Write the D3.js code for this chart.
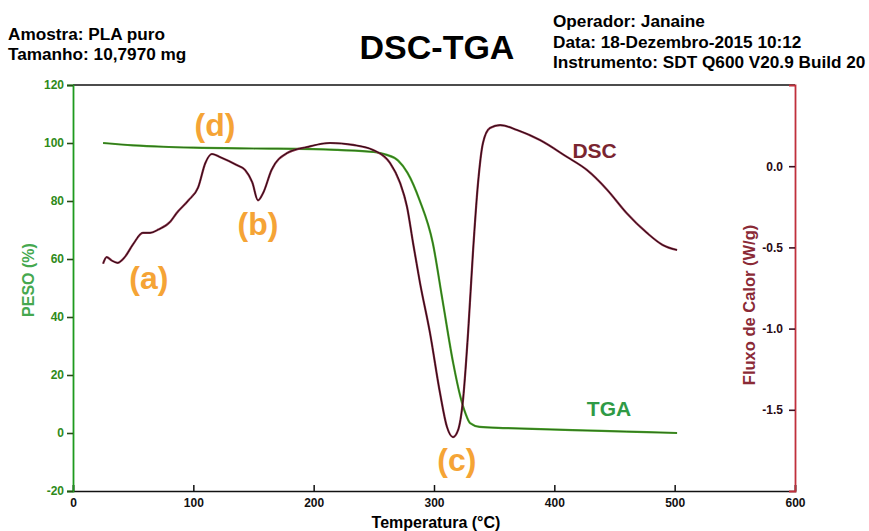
<!DOCTYPE html>
<html>
<head>
<meta charset="utf-8">
<script src="https://cdn.jsdelivr.net/npm/d3@7"></script>
<style>
  body { margin: 0; background: #fff; }
  svg { font-family: "Liberation Sans", Arial, sans-serif; }
</style>
</head>
<body>
<svg width="869" height="531"></svg>
<script>
// --- data ---
var tgaTemp = [25, 50, 75, 100, 150, 200, 220, 250, 260, 270, 278, 288, 299, 307, 316, 322, 326, 330, 338, 360, 415, 460, 502];
var tgaPeso = [100, 99.2, 98.7, 98.4, 98.1, 97.9, 97.6, 96.9, 96.0, 94.0, 89.7, 80.3, 65.5, 46.0, 24.0, 12.4, 6.9, 3.4, 2.1, 1.7, 1.0, 0.5, 0.0];

var dscTemp = [25, 28, 32, 37, 43, 50, 58, 64, 71, 81, 86, 96, 104, 110, 115.5, 122, 136, 143, 149, 153.7, 158, 165, 178, 194.5, 213.6, 232.7, 249.3, 263.4, 271.8, 277.6, 282.6, 288.4, 296.7, 305, 310.8, 315.8, 320, 324.1, 328.3, 332.5, 336.6, 340.7, 346.5, 355, 369, 388, 410.5, 427, 444, 460, 477, 490, 502];
var dscFluxo = [-0.60, -0.56, -0.58, -0.595, -0.56, -0.48, -0.41, -0.41, -0.39, -0.34, -0.29, -0.21, -0.13, 0.02, 0.075, 0.057, 0.007, -0.023, -0.10, -0.21, -0.165, -0.023, 0.081, 0.118, 0.143, 0.131, 0.100, 0.020, -0.103, -0.251, -0.473, -0.720, -1.028, -1.397, -1.606, -1.668, -1.625, -1.440, -1.028, -0.517, -0.103, 0.143, 0.235, 0.253, 0.223, 0.161, 0.057, -0.023, -0.146, -0.288, -0.411, -0.485, -0.516];

var xTicks = [0, 100, 200, 300, 400, 500, 600];
var pesoTicks = [-20, 0, 20, 40, 60, 80, 100, 120];
var fluxoTicks = [0.0, -0.5, -1.0, -1.5];

var headerLeft = ["Amostra: PLA puro", "Tamanho: 10,7970 mg"];
var headerRight = ["Operador: Janaine", "Data: 18-Dezembro-2015 10:12", "Instrumento: SDT Q600 V20.9 Build 20"];

// annotations: label, temperature, value on peso axis (baseline)
var marks = [
  {label: "(a)", t: 63, v: 49.7},
  {label: "(b)", t: 153.7, v: 68.3},
  {label: "(c)", t: 319, v: -13.1},
  {label: "(d)", t: 118, v: 102.4}
];

var svg = d3.select("svg");

var x = d3.scaleLinear().domain([0, 600]).range([73, 795]);
var yPeso = d3.scaleLinear().domain([-20, 120]).range([491, 85]);
var yFluxo = d3.scaleLinear().domain([-2.0, 0.5]).range([491, 85]);

var hyphen = function(f) { return function(d) { return f(d).replace("\u2212", "-"); }; };

// header
svg.append("g").selectAll("text")
  .data(headerLeft).enter().append("text")
  .attr("x", 8).attr("y", function(d, i) { return 40 + i * 20; })
  .style("font-size", "17.2px").style("font-weight", "bold")
  .text(function(d) { return d; });

svg.append("g").selectAll("text")
  .data(headerRight).enter().append("text")
  .attr("x", 553).attr("y", function(d, i) { return 27 + i * 20.5; })
  .style("font-size", "17.2px").style("font-weight", "bold")
  .text(function(d) { return d; });

svg.append("text")
  .attr("x", 437).attr("y", 59)
  .attr("text-anchor", "middle")
  .style("font-size", "34px").style("font-weight", "bold")
  .text("DSC-TGA");

// frame top
svg.append("line")
  .attr("x1", x(0)).attr("x2", x(600)).attr("y1", yPeso(120)).attr("y2", yPeso(120))
  .attr("stroke", "#111").attr("stroke-width", 1.5);

// bottom axis, ticks inward
var xAxis = svg.append("g").attr("transform", "translate(0," + yPeso(-20) + ")");
xAxis.call(d3.axisBottom(x).tickValues(d3.range(0, 601, 25)).tickSize(-4).tickFormat(""));
xAxis.call(d3.axisBottom(x).tickValues(xTicks).tickSize(-6).tickFormat(d3.format("d")).tickPadding(7));
xAxis.selectAll("path.domain").attr("stroke", "#111").attr("stroke-width", 1.6);
xAxis.selectAll("line").attr("stroke", "#111").attr("stroke-width", 1.5);
xAxis.selectAll("text").style("font-size", "12px").style("font-weight", "bold").attr("fill", "#111");

svg.append("text")
  .attr("x", 436).attr("y", 528)
  .attr("text-anchor", "middle")
  .style("font-size", "16px").style("font-weight", "bold")
  .text("Temperatura (\u00B0C)");

// left axis (peso)
var yAxisL = svg.append("g").attr("transform", "translate(" + x(0) + ",0)");
yAxisL.call(d3.axisLeft(yPeso).tickValues(d3.range(-20, 121, 5)).tickSize(4).tickFormat(""));
yAxisL.call(d3.axisLeft(yPeso).tickValues(pesoTicks).tickSize(6).tickFormat(hyphen(d3.format("d"))).tickPadding(3));
yAxisL.selectAll("path.domain").attr("stroke", "#1e9a1e").attr("stroke-width", 1.8);
yAxisL.selectAll("line").attr("stroke", "#2a4a18").attr("stroke-width", 1.6);
yAxisL.selectAll("text").style("font-size", "12px").style("font-weight", "bold").attr("fill", "#2f8a1a");

svg.append("text")
  .attr("transform", "translate(34,280) rotate(-90)")
  .attr("text-anchor", "middle")
  .style("font-size", "16px").style("font-weight", "bold")
  .attr("fill", "#45a84f")
  .text("PESO (%)");

// right axis (fluxo), ticks and labels inside the plot
var yAxisR = svg.append("g").attr("transform", "translate(" + x(600) + ",0)");
yAxisR.call(d3.axisLeft(yFluxo).tickValues(d3.range(-2.0, 0.51, 0.125)).tickSize(4).tickFormat(""));
yAxisR.call(d3.axisLeft(yFluxo).tickValues(fluxoTicks).tickSize(6).tickFormat(hyphen(d3.format(".1f"))).tickPadding(6));
yAxisR.selectAll("path.domain").attr("stroke", "#c0303c").attr("stroke-width", 1.8);
yAxisR.selectAll("line").attr("stroke", "#3a1020").attr("stroke-width", 1.6);
yAxisR.selectAll("text").style("font-size", "12px").style("font-weight", "bold").attr("fill", "#2a0a14");

svg.append("text")
  .attr("transform", "translate(755,305) rotate(-90)")
  .attr("text-anchor", "middle")
  .style("font-size", "16.5px").style("font-weight", "bold")
  .attr("fill", "#8a2a36")
  .text("Fluxo de Calor (W/g)");

// curves
var tga = tgaTemp.map(function(t, i) { return {t: t, v: tgaPeso[i]}; });
var dsc = dscTemp.map(function(t, i) { return {t: t, v: dscFluxo[i]}; });

var tgaLine = d3.line().curve(d3.curveMonotoneX)
  .x(function(d) { return x(d.t); }).y(function(d) { return yPeso(d.v); });
var dscLine = d3.line().curve(d3.curveMonotoneX)
  .x(function(d) { return x(d.t); }).y(function(d) { return yFluxo(d.v); });

svg.append("path").datum(tga)
  .attr("d", tgaLine).attr("fill", "none")
  .attr("stroke", "#4aa82a").attr("stroke-width", 2.2);
svg.append("path").datum(tga)
  .attr("d", tgaLine).attr("fill", "none")
  .attr("stroke", "#2a5a18").attr("stroke-width", 0.8);

svg.append("path").datum(dsc)
  .attr("d", dscLine).attr("fill", "none")
  .attr("stroke", "#8a3048").attr("stroke-width", 2.2);
svg.append("path").datum(dsc)
  .attr("d", dscLine).attr("fill", "none")
  .attr("stroke", "#2a0812").attr("stroke-width", 1);

// curve names
svg.append("text")
  .attr("x", x(415)).attr("y", yFluxo(0.05))
  .style("font-size", "21px").style("font-weight", "bold")
  .attr("fill", "#7a2530").text("DSC");
svg.append("text")
  .attr("x", x(427)).attr("y", yPeso(6))
  .style("font-size", "21px").style("font-weight", "bold")
  .attr("fill", "#2f9a45").text("TGA");

// annotation letters
svg.append("g").selectAll("text")
  .data(marks).enter().append("text")
  .attr("x", function(d) { return x(d.t); })
  .attr("y", function(d) { return yPeso(d.v); })
  .attr("text-anchor", "middle")
  .style("font-size", "32px").style("font-weight", "bold")
  .attr("fill", "#f5a436")
  .text(function(d) { return d.label; });
</script>
</body>
</html>
